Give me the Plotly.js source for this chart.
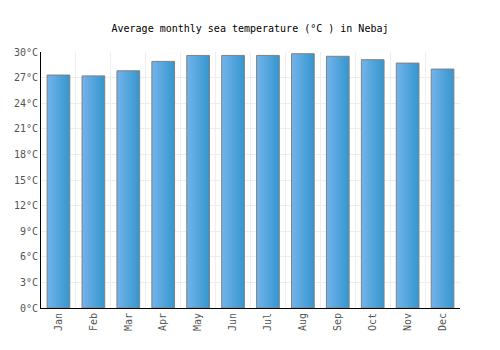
<!DOCTYPE html>
<html>
<head>
<script src="https://cdn.plot.ly/plotly-3.0.1.min.js"></script>
<style>body{margin:0;padding:0;background:#fff;}</style>
</head>
<body>
<div id="chart" style="width:500px;height:350px;"></div>
<script>
const months = ["Jan","Feb","Mar","Apr","May","Jun","Jul","Aug","Sep","Oct","Nov","Dec"];
const seaTemp = [27.3, 27.2, 27.8, 28.9, 29.6, 29.6, 29.6, 29.8, 29.5, 29.1, 28.7, 28.0];
const yTicks = [0,3,6,9,12,15,18,21,24,27,30];

const trace = {
  type: "bar",
  x: months,
  y: seaTemp,
  width: 0.65,
  marker: {color: "#4fa3dd", line: {color: "#808080", width: 1}},
  hoverinfo: "none"
};

const layout = {
  width: 500, height: 350,
  margin: {l: 41, r: 40, t: 52, b: 42},
  paper_bgcolor: "#fff", plot_bgcolor: "#fff",
  font: {family: "DejaVu Sans Mono, monospace", size: 10, color: "#555"},
  title: {text: "Average monthly sea temperature (°C ) in Nebaj", x: 0.5, xanchor: "center", y: 0.92, yanchor: "middle",
          font: {family: "DejaVu Sans Mono, monospace", size: 10, color: "#000"}},
  showlegend: false,
  bargap: 0.35,
  xaxis: {
    type: "category", tickson: "boundaries", ticklen: 0,
    showgrid: true, gridcolor: "#eeeeee", gridwidth: 1,
    showline: true, linecolor: "#000", linewidth: 1,
    tickangle: -90, tickfont: {size: 10, color: "#555"},
    zeroline: false
  },
  yaxis: {
    range: [0, 30], tickvals: yTicks, ticktext: yTicks.map(v => v + "°C"),
    showgrid: true, gridcolor: "#eeeeee", gridwidth: 1,
    showline: true, linecolor: "#000", linewidth: 1,
    zeroline: false, ticks: "", ticklen: 0,
    tickfont: {size: 10, color: "#555"}
  }
};

Plotly.newPlot("chart", [trace], layout, {staticPlot: true, displayModeBar: false}).then(gd => {
  const svg = gd.querySelector("svg.main-svg");
  const ns = "http://www.w3.org/2000/svg";
  let defs = svg.querySelector("defs");
  if (!defs) { defs = document.createElementNS(ns, "defs"); svg.insertBefore(defs, svg.firstChild); }
  const grad = document.createElementNS(ns, "linearGradient");
  grad.setAttribute("id", "barGrad");
  grad.setAttribute("x1", "0"); grad.setAttribute("y1", "0");
  grad.setAttribute("x2", "1"); grad.setAttribute("y2", "0");
  [["0", "#72b4eb"], ["1", "#3596ce"]].forEach(([o, c]) => {
    const s = document.createElementNS(ns, "stop");
    s.setAttribute("offset", o); s.setAttribute("stop-color", c);
    grad.appendChild(s);
  });
  defs.appendChild(grad);
  gd.querySelectorAll(".barlayer .point path").forEach(p => { p.style.fill = "url(#barGrad)"; });
});
</script>
</body>
</html>
